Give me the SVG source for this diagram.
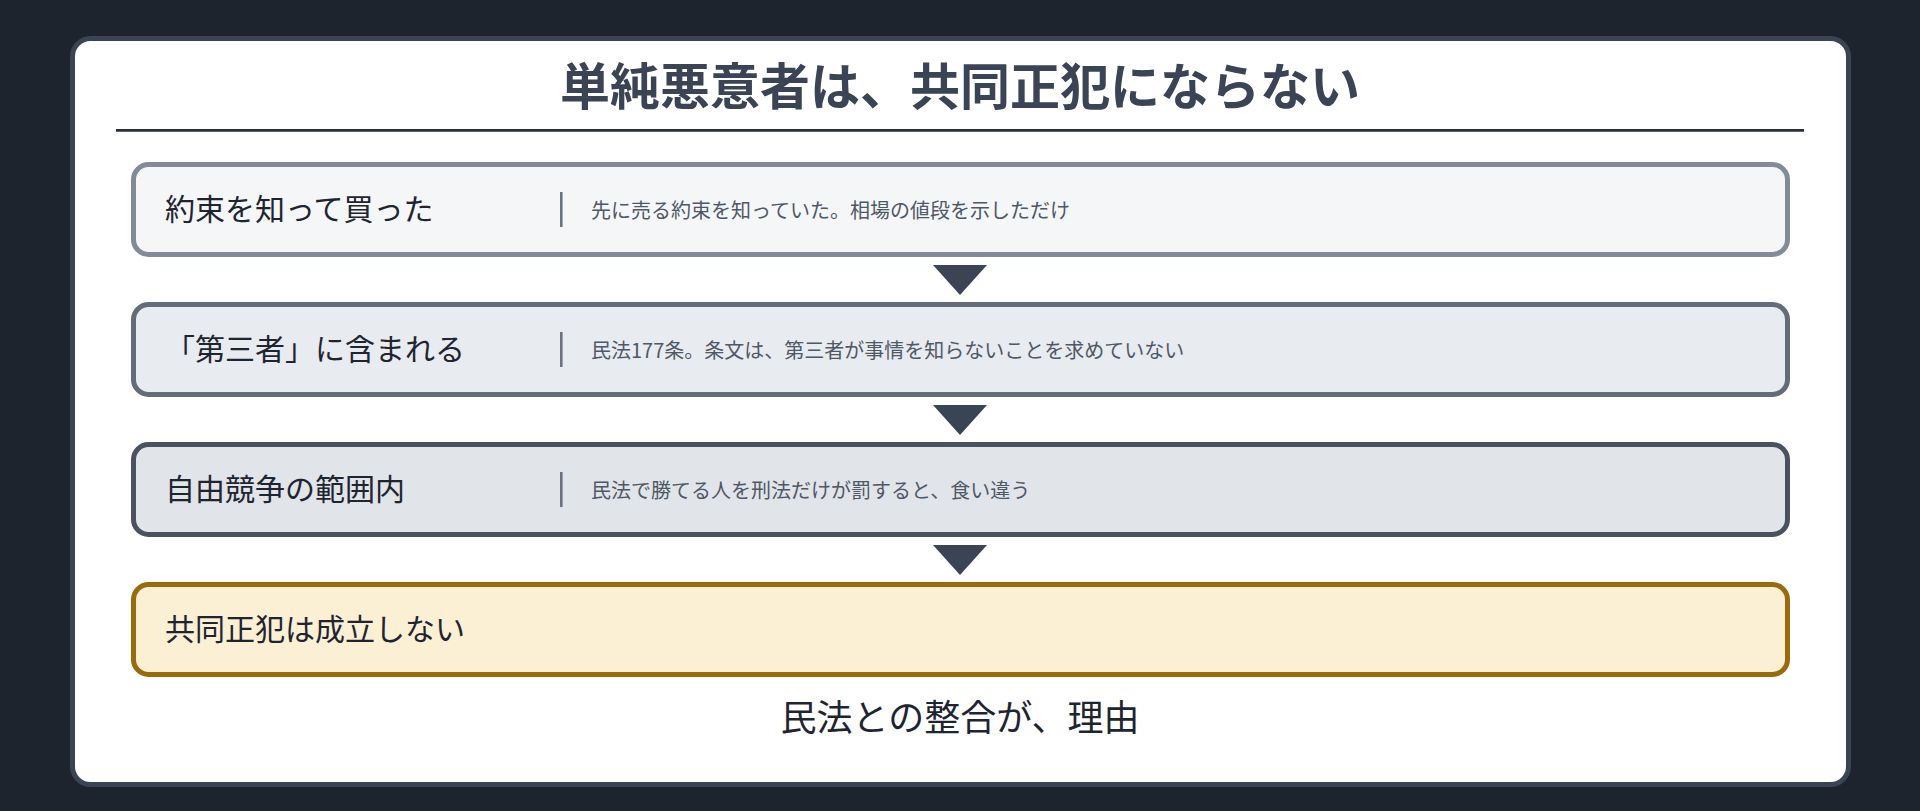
<svg xmlns="http://www.w3.org/2000/svg" width="1920" height="811" viewBox="0 0 1920 811">
  <defs>
    <style>
      .jp { font-family: "Noto Sans CJK JP", "Noto Sans", sans-serif; }
      .title { font-size: 50px; font-weight: 700; fill: #3a4454; text-anchor: middle; }
      .label { font-size: 30px; fill: #1f2530; }
      .desc { font-size: 20px; fill: #4f5866; }
      .sep { stroke: #6b7280; stroke-width: 2.6; }
      .box { stroke-width: 5; }
      .arrow { fill: #3a4454; }
      .foot { font-size: 36px; fill: #1f2530; text-anchor: middle; }
    </style>
  </defs>
  <rect x="0" y="0" width="1920" height="811" fill="#1e242e"/>
  <rect id="panel" x="72.5" y="38.5" width="1776" height="746" rx="18" fill="#ffffff" stroke="#3a4454" stroke-width="5"/>
  <text id="title" class="jp title" x="960" y="105">単純悪意者は、共同正犯にならない</text>
  <line x1="116" y1="130.3" x2="1804" y2="130.3" stroke="#2a303b" stroke-width="2.8"/>

  <g id="connectors">
    <polygon class="arrow" points="933,265 987,265 960,295"/>
    <polygon class="arrow" points="933,405 987,405 960,435"/>
    <polygon class="arrow" points="933,545 987,545 960,575"/>
  </g>

  <g id="node1">
    <rect class="box" x="133.5" y="164.5" width="1654" height="90" rx="15" fill="#f4f6f8" stroke="#848b98"/>
    <text class="jp label" x="165" y="219.5">約束を知って買った</text>
    <line class="sep" x1="561.3" y1="192" x2="561.3" y2="227"/>
    <text class="jp desc" x="591" y="217.5">先に売る約束を知っていた。相場の値段を示しただけ</text>
  </g>

  <g id="node2">
    <rect class="box" x="133.5" y="304.5" width="1654" height="90" rx="15" fill="#e8ebef" stroke="#646c7a"/>
    <text class="jp label" x="165" y="359.5">「第三者」に含まれる</text>
    <line class="sep" x1="561.3" y1="332" x2="561.3" y2="367"/>
    <text class="jp desc" x="591" y="357.5">民法177条。条文は、第三者が事情を知らないことを求めていない</text>
  </g>

  <g id="node3">
    <rect class="box" x="133.5" y="444.5" width="1654" height="90" rx="15" fill="#e1e4e9" stroke="#4a5261"/>
    <text class="jp label" x="165" y="499.5">自由競争の範囲内</text>
    <line class="sep" x1="561.3" y1="472" x2="561.3" y2="507"/>
    <text class="jp desc" x="591" y="497.5">民法で勝てる人を刑法だけが罰すると、食い違う</text>
  </g>

  <g id="node4">
    <rect class="box" x="133.5" y="584.5" width="1654" height="90" rx="15" fill="#fbefd4" stroke="#9a6a0c"/>
    <text class="jp label" x="165" y="639.5">共同正犯は成立しない</text>
  </g>

  <text id="footer" class="jp foot" x="960" y="731">民法との整合が、理由</text>
</svg>
